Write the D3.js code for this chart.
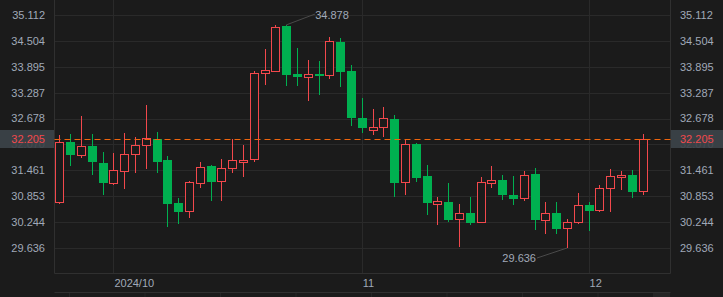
<!DOCTYPE html>
<html>
<head>
<meta charset="utf-8">
<script src="https://cdn.jsdelivr.net/npm/d3@7"></script>
<style>
  html, body { margin: 0; padding: 0; background: #1b1b1b; overflow: hidden; }
  svg { display: block; }
</style>
</head>
<body>
<div id="chart"></div>
<script>
document.addEventListener("DOMContentLoaded", function () {
  const W = 723, H = 297;
  const bg = "#1b1b1b", grid = "#2a2a2a", frame = "#303030", txt = "#a0a9b8";
  const up = "#f2484c", down = "#00b050";

  // trading days
  const dates = [
    "2024-09-24","2024-09-25","2024-09-26","2024-09-27","2024-09-30",
    "2024-10-01","2024-10-02","2024-10-03","2024-10-04","2024-10-07","2024-10-08","2024-10-09","2024-10-10","2024-10-11",
    "2024-10-14","2024-10-15","2024-10-16","2024-10-17","2024-10-18","2024-10-21","2024-10-22","2024-10-23","2024-10-24",
    "2024-10-25","2024-10-28","2024-10-29","2024-10-30","2024-10-31",
    "2024-11-01","2024-11-04","2024-11-05","2024-11-06","2024-11-07","2024-11-08","2024-11-11","2024-11-12","2024-11-13",
    "2024-11-14","2024-11-15","2024-11-18","2024-11-19","2024-11-20","2024-11-21","2024-11-22","2024-11-25","2024-11-26",
    "2024-11-27","2024-11-28","2024-11-29",
    "2024-12-02","2024-12-03","2024-12-04","2024-12-05","2024-12-06","2024-12-09"
  ];
  const open  = [30.71,32.13,31.82,32.03,31.63,31.16,31.45,31.84,32.05,32.20,31.70,30.69,30.50,31.16,31.56,31.20,31.51,31.65,31.72,33.74,
                 33.80,34.85,33.73,33.65,33.73,33.70,34.48,33.80,32.69,32.42,32.47,32.67,31.18,32.08,31.33,30.65,30.72,30.33,30.46,30.25,
                 31.15,31.23,30.88,30.80,31.38,30.30,30.46,30.10,30.24,30.64,30.52,31.04,31.30,31.35,30.99];
  const high  = [32.29,32.32,32.74,32.32,31.89,31.87,32.34,32.25,33.00,32.36,31.80,30.81,31.21,31.66,31.59,31.73,32.20,32.06,33.80,34.31,
                 34.87,34.878,34.34,34.05,34.03,34.60,34.57,33.94,33.16,32.90,32.95,32.76,32.17,32.10,31.59,30.84,31.16,30.67,30.84,31.31,
                 31.56,31.35,31.33,31.45,31.52,30.72,30.72,30.32,30.93,30.72,31.12,31.49,31.45,31.47,32.32];
  const low   = [30.66,31.57,31.76,31.36,30.89,31.12,31.02,31.41,31.50,31.41,30.12,30.20,30.35,31.05,30.75,30.75,31.41,31.31,31.66,33.47,
                 33.78,33.45,33.44,33.10,33.24,33.61,33.43,32.51,32.35,32.29,32.25,30.84,30.87,31.19,30.42,30.18,30.25,29.66,30.18,30.24,
                 31.05,30.76,30.65,30.75,30.06,29.97,29.97,29.636,30.19,30.04,30.48,30.48,31.01,30.82,30.87];
  const close = [32.12,31.81,32.03,31.66,31.17,31.46,31.84,32.05,32.21,31.66,30.68,30.49,31.18,31.53,31.19,31.51,31.70,31.70,33.75,33.82,
                 34.84,33.71,33.65,33.72,33.67,34.49,33.78,32.68,32.46,32.48,32.68,31.17,32.07,31.29,30.70,30.73,30.30,30.46,30.23,31.19,
                 31.23,30.87,30.79,31.35,30.29,30.46,30.09,30.24,30.64,30.51,31.04,31.32,31.35,30.96,32.205];

  const yTicks = [35.112, 34.504, 33.895, 33.287, 32.678, 32.070, 31.461, 30.853, 30.244, 29.636];
  const monthTicks = ["2024-10-01", "2024-11-01", "2024-12-02"];
  const monthLabels = ["2024/10", "11", "12"];
  const lastPrice = 32.205;

  const left = 54.5, right = 670.5, bottom = 273.5;
  const slots = 57; // two empty slots after the last candle

  const svg = d3.select("#chart").append("svg")
    .attr("width", W).attr("height", H)
    .style("font-family", "'Liberation Sans', Arial, sans-serif")
    .style("font-size", "11px");

  svg.append("rect").attr("width", W).attr("height", H).attr("fill", bg);

  const x = d3.scaleBand()
    .domain(d3.range(slots))
    .range([54, 669.6]);
  const xc = i => x(i) + x.bandwidth() / 2;
  const y = d3.scaleLinear().domain([29.636, 35.112]).range([248, 15]);

  // horizontal grid
  svg.append("g").selectAll("line").data(yTicks).join("line")
    .attr("x1", left).attr("x2", right)
    .attr("y1", d => Math.round(y(d)) + 0.5).attr("y2", d => Math.round(y(d)) + 0.5)
    .attr("stroke", grid);

  // vertical month grid
  const monthIdx = monthTicks.map(d => dates.indexOf(d));
  svg.append("g").selectAll("line").data(monthIdx).join("line")
    .attr("x1", d => Math.round(xc(d)) + 0.5).attr("x2", d => Math.round(xc(d)) + 0.5)
    .attr("y1", 0).attr("y2", bottom)
    .attr("stroke", grid);

  // frame
  svg.append("path")
    .attr("d", `M${left},0V${bottom}H${right}V0`)
    .attr("fill", "none").attr("stroke", frame);
  svg.append("line").attr("x1", left).attr("x2", right).attr("y1", 292.5).attr("y2", 292.5).attr("stroke", frame);
  svg.append("g").selectAll("line").data(d3.range(8)).join("line")
    .attr("x1", d => 69.5 + d * 75.5).attr("x2", d => 69.5 + d * 75.5)
    .attr("y1", 293).attr("y2", H).attr("stroke", "#262626");
  svg.append("rect").attr("x", 653).attr("y", 293).attr("width", 17).attr("height", 4).attr("fill", "#262626");

  // month labels
  svg.append("g").selectAll("text").data(monthIdx).join("text")
    .attr("x", d => xc(d) + 1).attr("y", 283)
    .attr("dy", "0.35em")
    .attr("fill", txt)
    .text((d, i) => monthLabels[i]);

  // candles
  const data = dates.map((d, i) => ({ i, o: open[i], h: high[i], l: low[i], c: close[i] }));
  const bw = 8;
  const g = svg.append("g").attr("shape-rendering", "crispEdges");
  data.forEach(d => {
    const col = d.c >= d.o ? up : down;
    const cx = Math.round(xc(d.i)) + 0.5;
    g.append("line")
      .attr("x1", cx).attr("x2", cx)
      .attr("y1", y(d.h)).attr("y2", y(d.l))
      .attr("stroke", col);
    const top = y(Math.max(d.o, d.c)), bot = y(Math.min(d.o, d.c));
    if (d.c >= d.o) {
      g.append("rect")
        .attr("x", cx - bw / 2).attr("y", Math.round(top) + 0.5)
        .attr("width", bw).attr("height", Math.max(1, Math.round(bot - top)))
        .attr("fill", bg).attr("stroke", col);
    } else {
      g.append("rect")
        .attr("x", cx - bw / 2 - 0.5).attr("y", top)
        .attr("width", bw + 1).attr("height", Math.max(1, bot - top))
        .attr("fill", col);
    }
  });

  // high / low annotations
  const iMax = d3.maxIndex(high), iMin = d3.minIndex(low);
  const ann = svg.append("g");
  ann.append("line")
    .attr("x1", xc(iMax)).attr("y1", y(high[iMax]))
    .attr("x2", xc(iMax) + 29).attr("y2", y(high[iMax]) - 11)
    .attr("stroke", "#4a4a4a");
  ann.append("text")
    .attr("x", xc(iMax) + 29).attr("y", y(high[iMax]) - 10)
    .attr("dy", "0.35em").attr("fill", txt)
    .text(high[iMax].toFixed(3));
  ann.append("line")
    .attr("x1", xc(iMin)).attr("y1", y(low[iMin]))
    .attr("x2", xc(iMin) - 30).attr("y2", y(low[iMin]) + 10)
    .attr("stroke", "#4a4a4a");
  ann.append("text")
    .attr("x", xc(iMin) - 31).attr("y", y(low[iMin]) + 10)
    .attr("dy", "0.35em").attr("text-anchor", "end").attr("fill", txt)
    .text(low[iMin].toFixed(3));

  // last price line
  const py = Math.round(y(lastPrice)) + 0.5;
  svg.append("line")
    .attr("x1", left).attr("x2", right).attr("y1", py).attr("y2", py)
    .attr("stroke", "#f0640c").attr("stroke-width", 1.2).attr("stroke-dasharray", "6,4");

  // y tick labels (the 32.070 one sits mostly under the last-price box)
  svg.append("g").selectAll("text").data(yTicks).join("text")
    .attr("x", 45).attr("y", d => y(d)).attr("dy", "0.35em")
    .attr("text-anchor", "end").attr("fill", txt)
    .text(d => d.toFixed(3));
  svg.append("g").selectAll("text").data(yTicks).join("text")
    .attr("x", 680).attr("y", d => y(d)).attr("dy", "0.35em")
    .attr("fill", txt)
    .text(d => d.toFixed(3));

  // price boxes
  svg.append("rect").attr("x", 0).attr("y", py - 9.5).attr("width", 54).attr("height", 18)
    .attr("fill", "#3c4349").attr("fill-opacity", 0.92);
  svg.append("rect").attr("x", 671).attr("y", py - 9.5).attr("width", 52).attr("height", 18)
    .attr("fill", "#3c4349").attr("fill-opacity", 0.92);

  svg.append("text").attr("x", 45).attr("y", py).attr("dy", "0.35em")
    .attr("text-anchor", "end").attr("fill", "#f2484c").text(lastPrice.toFixed(3));
  svg.append("text").attr("x", 680).attr("y", py).attr("dy", "0.35em")
    .attr("fill", "#f2484c").text(lastPrice.toFixed(3));
});
</script>
</body>
</html>
